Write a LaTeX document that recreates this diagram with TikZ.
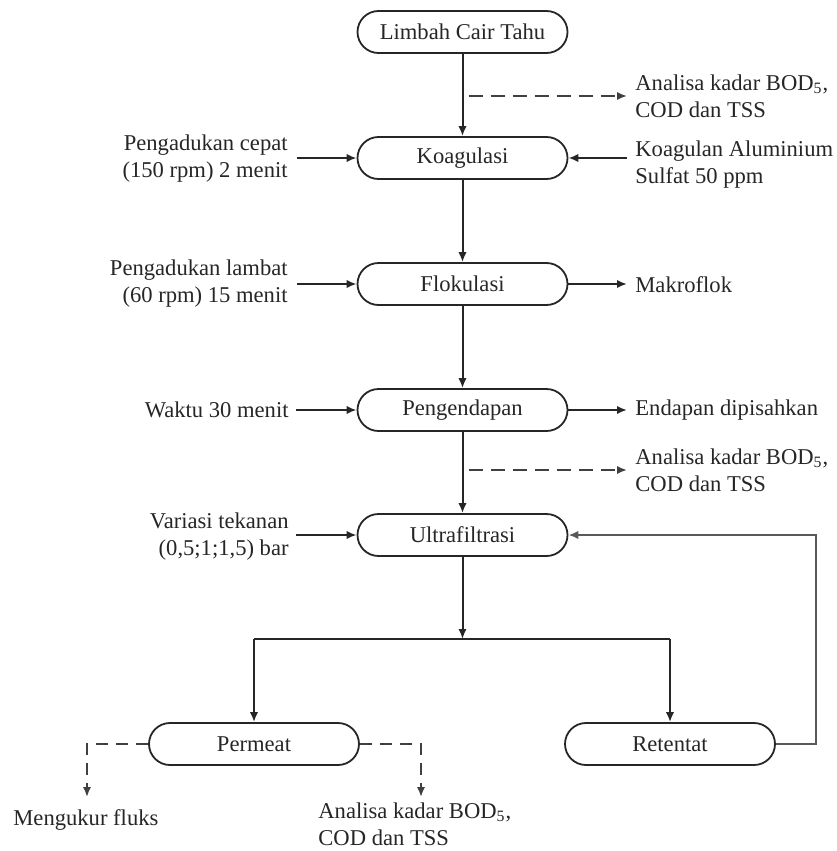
\documentclass[tikz,border=0pt]{standalone}
\usepackage{fontspec}
\setmainfont{Liberation Serif}
\usetikzlibrary{arrows.meta}
\begin{document}
\begin{tikzpicture}[x=0.5pt,y=-0.5pt,
  font=\fontsize{11.3}{13.5}\selectfont,
  every node/.style={text=black!85},
  proc/.style={draw=black!85, line width=0.9pt, rounded corners=10.5pt,
    minimum width=105pt, minimum height=21pt, inner sep=0pt},
  lbl/.style={inner sep=0pt, align=left},
  lblr/.style={inner sep=0pt, align=right},
  arr/.style={draw=black!85, line width=1pt, -{Latex[length=5pt,width=4.2pt]}},
  dasharr/.style={draw=black!75, line width=1pt, dash pattern=on 7pt off 4pt, -{Latex[length=5pt,width=4.2pt]}},
  plain/.style={draw=black!85, line width=1pt}]
\useasboundingbox (0,0) rectangle (836,851);

% process boxes
\node[proc] (limbah) at (462.5,32) {Limbah Cair Tahu};
\node[proc] (koag) at (462.5,158) {Koagulasi};
\node[proc] (flok) at (462.5,284) {Flokulasi};
\node[proc] (peng) at (462.5,410) {Pengendapan};
\node[proc] (ultra) at (462.5,535) {Ultrafiltrasi};
\node[proc] (perm) at (254,744) {Permeat};
\node[proc] (ret) at (670,744) {Retentat};

% side texts
\node[lbl, anchor=west] (an1) at (635,96) {Analisa kadar BOD\textsubscript{5},\\COD dan TSS};
\node[lbl, anchor=west] (koagulan) at (635,165) {Koagulan Aluminium\\Sulfat 50 ppm};
\node[lbl, anchor=west] (makro) at (635,285) {Makroflok};
\node[lbl, anchor=west] (endapan) at (635,410) {Endapan dipisahkan};
\node[lbl, anchor=west] (an2) at (635,470) {Analisa kadar BOD\textsubscript{5},\\COD dan TSS};

\node[lblr, anchor=east] (cepat) at (288,159) {Pengadukan cepat\\(150 rpm) 2 menit};
\node[lblr, anchor=east] (lambat) at (288,284) {Pengadukan lambat\\(60 rpm) 15 menit};
\node[lblr, anchor=east] (waktu) at (289,410) {Waktu 30 menit};
\node[lblr, anchor=east] (variasi) at (289,537) {Variasi tekanan\\(0,5;1;1,5) bar};

\node[lbl, anchor=west] (fluks) at (13,820) {Mengukur fluks};
\node[lbl, anchor=west] (an3) at (318,824) {Analisa kadar BOD\textsubscript{5},\\COD dan TSS};

% helper coordinates
\coordinate (split) at (462.5,639);
\coordinate (loopx) at (816,0);
\coordinate (dl) at (87,797);
\coordinate (dr) at (421,797);

% main flow
\draw[arr] (limbah) -- (koag);
\draw[arr] (koag) -- (flok);
\draw[arr] (flok) -- (peng);
\draw[arr] (peng) -- (ultra);
\draw[arr] (ultra) -- (split);
\draw[plain] (perm.north |- split) -- (ret.north |- split);
\draw[arr] (perm.north |- split) -- (perm.north);
\draw[arr] (ret.north |- split) -- (ret.north);

% dashed analyses
\draw[dasharr, shorten <=3pt, shorten >=4pt] (limbah.south |- an1.west) -- (an1.west);
\draw[dasharr, shorten <=3pt, shorten >=4pt] (peng.south |- an2.west) -- (an2.west);

% inputs
\draw[arr, shorten <=4.5pt] (cepat.east |- koag) -- (koag.west);
\draw[arr, shorten <=4.5pt] (lambat.east |- flok) -- (flok.west);
\draw[arr, shorten <=3.5pt] (waktu.east |- peng) -- (peng.west);
\draw[arr, shorten <=3.5pt] (variasi.east |- ultra) -- (ultra.west);
\draw[arr, shorten <=4pt] (koagulan.west |- koag) -- (koag.east);

% outputs
\draw[arr, shorten >=4pt] (flok.east) -- (makro.west |- flok);
\draw[arr, shorten >=4pt] (peng.east) -- (endapan.west |- peng);

% recycle loop
\draw[arr, draw=black!65] (ret.east) -- (loopx |- ret.east) -- (loopx |- ultra.east) -- (ultra.east);

% permeat dashed
\draw[dasharr, dash pattern=on 6pt off 4pt] (perm.west) -| (dl);
\draw[dasharr, dash pattern=on 6pt off 4pt] (perm.east) -| (dr);
\end{tikzpicture}
\end{document}
